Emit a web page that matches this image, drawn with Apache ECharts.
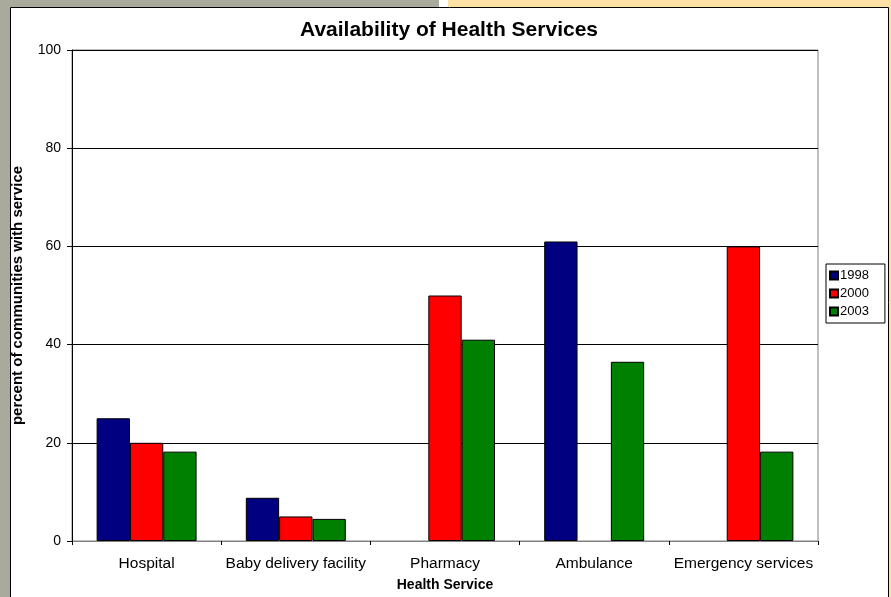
<!DOCTYPE html>
<html>
<head>
<meta charset="utf-8">
<script src="https://cdn.jsdelivr.net/npm/echarts@6/dist/echarts.min.js"></script>
<style>
html,body{margin:0;padding:0;background:#fff;}
#c{width:891px;height:597px;}
</style>
</head>
<body>
<div id="c"></div>
<script>
const categories = ['Hospital', 'Baby delivery facility', 'Pharmacy', 'Ambulance', 'Emergency services'];
const seriesNames = ['1998', '2000', '2003'];
const values1998 = [25, 8.8, '-', 61, '-'];
const values2000 = [20, 5, 50, '-', 60];
const values2003 = [18.2, 4.5, 41, 36.5, 18.2];
const seriesColors = ['#000080', '#ff0000', '#008000'];
const yTicks = [0, 20, 40, 60, 80, 100];

const FONT = '"Liberation Sans", Arial, sans-serif';
const chart = echarts.init(document.getElementById('c'), null, {renderer: 'canvas'});
const allValues = [values1998, values2000, values2003];

chart.setOption({
  animation: false,
  backgroundColor: '#ffffff',
  textStyle: {fontFamily: FONT, color: '#000'},
  graphic: [
    {type: 'rect', silent: true, z: -10, shape: {x: 0, y: 0, width: 439, height: 8}, style: {fill: '#a9aa9c'}},
    {type: 'rect', silent: true, z: -10, shape: {x: 448, y: 0, width: 443, height: 8}, style: {fill: '#fee1a5'}},
    {type: 'rect', silent: true, z: -10, shape: {x: 0, y: 0, width: 10, height: 597}, style: {fill: '#a9aa9c'}},
    {type: 'rect', silent: true, z: -10, shape: {x: 889, y: 0, width: 2, height: 597}, style: {fill: '#fee1a5'}},
    {type: 'rect', silent: true, z: -9, shape: {x: 10.5, y: 7.5, width: 878, height: 600}, style: {fill: '#ffffff', stroke: '#000', lineWidth: 1}}
  ],
  title: {
    text: 'Availability of Health Services',
    left: 444, top: 15, textAlign: 'center',
    textStyle: {fontFamily: FONT, fontSize: 21, fontWeight: 'bold', color: '#000'}
  },
  legend: {
    orient: 'vertical',
    left: 826, top: 264,
    padding: [5, 16, 5, 3],
    itemWidth: 8, itemHeight: 8, itemGap: 5,
    icon: 'rect',
    borderColor: '#000', borderWidth: 1,
    backgroundColor: '#fff',
    data: seriesNames,
    textStyle: {fontFamily: FONT, fontSize: 13, color: '#000', padding: [0, 0, 0, -3]}
  },
  grid: {
    left: 72, right: 73, top: 50, bottom: 53,
    show: true, borderColor: '#808080', borderWidth: 1, backgroundColor: '#fff'
  },
  xAxis: {
    type: 'category',
    data: categories,
    name: 'Health Service',
    nameLocation: 'middle',
    nameGap: 37,
    nameTextStyle: {fontFamily: FONT, fontSize: 14, fontWeight: 'bold', color: '#000'},
    axisLine: {lineStyle: {color: '#808080', width: 1}},
    axisTick: {show: true, length: 4, lineStyle: {color: '#000'}},
    axisLabel: {fontFamily: FONT, fontSize: 15.5, color: '#000', margin: 15, interval: 0}
  },
  yAxis: {
    type: 'value',
    min: 0, max: 100, interval: 20,
    name: 'percent of communities with service',
    nameLocation: 'middle',
    nameGap: 47,
    nameTextStyle: {fontFamily: FONT, fontSize: 15, fontWeight: 'bold', color: '#000'},
    axisLine: {show: true, lineStyle: {color: '#000', width: 1}},
    axisTick: {show: true, length: 5, lineStyle: {color: '#000'}},
    axisLabel: {fontFamily: FONT, fontSize: 14, color: '#000', margin: 11,
      formatter: v => (yTicks.indexOf(v) >= 0 ? String(v) : '')},
    splitLine: {show: true, lineStyle: {color: '#000', width: 1}}
  },
  series: seriesNames.map((n, i) => ({
    name: n,
    type: 'bar',
    data: allValues[i],
    barGap: '0%',
    barCategoryGap: '33%',
    itemStyle: {color: seriesColors[i], borderColor: '#000', borderWidth: 1}
  }))
});
</script>
</body>
</html>
